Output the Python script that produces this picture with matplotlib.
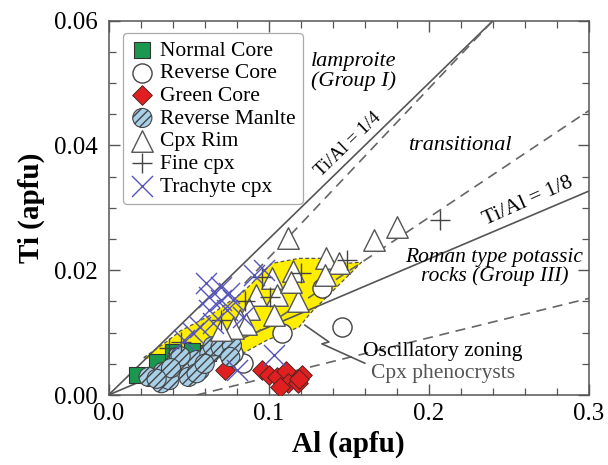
import matplotlib
matplotlib.use('Agg')
import matplotlib.pyplot as plt
from matplotlib.ticker import MultipleLocator

plt.rcParams['font.family'] = ['Liberation Serif', 'DejaVu Serif']
plt.rcParams['hatch.color'] = '#3f6f98'
plt.rcParams['hatch.linewidth'] = 1.0

# ---- data (Al, Ti in apfu) ----
normal_al = [0.018, 0.030, 0.040, 0.052, 0.062]
normal_ti = [0.0032, 0.0053, 0.0069, 0.0070, 0.0067]

rev_core_al = [0.077, 0.084, 0.078, 0.108, 0.133, 0.146]
rev_core_ti = [0.0061, 0.0051, 0.0067, 0.0099, 0.0171, 0.0109]

green_al = [0.073, 0.096, 0.100, 0.105, 0.111, 0.112, 0.118, 0.121, 0.107, 0.119]
green_ti = [0.0040, 0.0040, 0.0032, 0.0029, 0.0038, 0.0019, 0.0019, 0.0032, 0.0013, 0.0025]

mantle_al = [0.025, 0.033, 0.034, 0.041, 0.038, 0.050, 0.050, 0.057, 0.043, 0.055,
             0.063, 0.065, 0.070, 0.077, 0.076, 0.045, 0.039, 0.055, 0.030, 0.060]
mantle_ti = [0.0029, 0.0019, 0.0037, 0.0048, 0.0024, 0.0051, 0.0029, 0.0040, 0.0061, 0.0056,
             0.0066, 0.0078, 0.0077, 0.0080, 0.0061, 0.0062, 0.0043, 0.0035, 0.0026, 0.0050]

rim_al = [0.112, 0.136, 0.144, 0.115, 0.135, 0.102, 0.105, 0.118, 0.092, 0.088,
          0.103, 0.082, 0.086, 0.078, 0.166, 0.180, 0.114, 0.070]
rim_ti = [0.0251, 0.0219, 0.0211, 0.0198, 0.0192, 0.0188, 0.0160, 0.0151, 0.0160, 0.0138,
          0.0128, 0.0121, 0.0114, 0.0108, 0.0248, 0.0269, 0.0181, 0.0105]

fine_al = [0.038, 0.045, 0.070, 0.085, 0.096, 0.101, 0.120, 0.149, 0.207]
fine_ti = [0.0075, 0.0085, 0.0120, 0.0150, 0.0189, 0.0157, 0.0195, 0.0216, 0.0280]

trach_al = [0.061, 0.070, 0.063, 0.070, 0.075, 0.078, 0.091, 0.063, 0.074, 0.057,
            0.065, 0.053, 0.047, 0.103, 0.080, 0.084, 0.097]
trach_ti = [0.0179, 0.0173, 0.0157, 0.0152, 0.0163, 0.0152, 0.0192, 0.0136, 0.0136, 0.0109,
            0.0115, 0.0099, 0.0088, 0.0064, 0.0040, 0.0125, 0.0200]

# yellow oscillatory-zoning field outline
zone_al = [0.022, 0.036, 0.045, 0.063, 0.084, 0.102, 0.119, 0.132, 0.149, 0.158,
           0.155, 0.126, 0.119, 0.099, 0.084, 0.057, 0.035]
zone_ti = [0.0060, 0.0085, 0.0103, 0.0127, 0.0165, 0.0211, 0.0219, 0.0219, 0.0211, 0.0213,
           0.0205, 0.0131, 0.0109, 0.0088, 0.0067, 0.0054, 0.0050]

# boundary lines
quarter_al, quarter_ti = [0.0, 0.24], [0.0, 0.06]
eighth_al, eighth_ti = [0.0, 0.3], [0.0, 0.0327]
dash_up_al, dash_up_ti = [0.085, 0.240], [0.0179, 0.0600]
dash_mid_al, dash_mid_ti = [0.090, 0.300], [0.0096, 0.0456]
dash_low_al, dash_low_ti = [0.055, 0.300], [0.0000, 0.0155]
zig_al = [0.1226, 0.1376, 0.1332, 0.1600]
zig_ti = [0.0112, 0.0085, 0.0082, 0.0051]

fig = plt.figure(figsize=(6.08, 4.65), dpi=100)
ax = fig.add_axes([0.1785, 0.1505, 0.7903, 0.805])

ax.fill(zone_al, zone_ti, facecolor='#ffee00', edgecolor='#555555', ls=(0, (3, 2)), lw=0.9, zorder=1)

line_c = '#555555'
ax.plot(quarter_al, quarter_ti, color=line_c, lw=1.2, zorder=2)
ax.plot(eighth_al, eighth_ti, color=line_c, lw=1.2, zorder=2)
ax.plot(dash_up_al, dash_up_ti, color='#666666', lw=1.2, ls=(0, (6, 4)), zorder=2)
ax.plot(dash_mid_al, dash_mid_ti, color='#666666', lw=1.2, ls=(0, (6, 4)), zorder=2)
ax.plot(dash_low_al, dash_low_ti, color='#666666', lw=1.2, ls=(0, (6, 4)), zorder=2)
ax.plot(zig_al, zig_ti, color=line_c, lw=1.2, zorder=2)

ax.scatter(normal_al, normal_ti, marker='s', s=140, c='#1a9850', edgecolors='#333333', lw=0.8,
           label='Normal Core', zorder=3)
ax.scatter(rev_core_al, rev_core_ti, marker='o', s=190, c='white', edgecolors='#444444', lw=1.0,
           label='Reverse Core', zorder=3)
ax.scatter(green_al, green_ti, marker='D', s=100, c='#e02020', edgecolors='#552222', lw=0.7,
           label='Green Core', zorder=4)
ax.scatter(mantle_al, mantle_ti, marker='o', s=190, c='#a8d0e8', edgecolors='#444444', lw=0.8,
           hatch='////', label='Reverse Manlte', zorder=4)
ax.scatter(rim_al, rim_ti, marker='^', s=240, c='white', edgecolors='#555555', lw=1.0,
           label='Cpx Rim', zorder=5)
ax.scatter(fine_al, fine_ti, marker='+', s=200, c='#444444', lw=1.0, label='Fine cpx', zorder=6)
ax.scatter(trach_al, trach_ti, marker='x', s=230, c='#5555bb', lw=1.0, label='Trachyte cpx', zorder=6)

ax.set_xlim(0, 0.3)
ax.set_ylim(0, 0.06)
ax.xaxis.set_major_locator(MultipleLocator(0.1))
ax.xaxis.set_minor_locator(MultipleLocator(0.02))
ax.yaxis.set_major_locator(MultipleLocator(0.02))
ax.yaxis.set_minor_locator(MultipleLocator(0.005))
ax.xaxis.set_major_formatter(plt.FormatStrFormatter('%.1f'))
ax.yaxis.set_major_formatter(plt.FormatStrFormatter('%.2f'))
ax.tick_params(which='both', direction='in', top=True, right=True, labelsize=18, color='#555555')
ax.tick_params(axis='y', pad=8)
ax.tick_params(axis='x', pad=6)
ax.tick_params(which='major', length=8, width=1.0)
ax.tick_params(which='minor', length=5, width=0.9)
for sp in ax.spines.values():
    sp.set_color('#555555')
    sp.set_linewidth(1.1)

ax.set_xlabel('Al (apfu)', fontsize=21, fontweight='bold', labelpad=4)
ax.set_ylabel('Ti (apfu)', fontsize=21, fontweight='bold', labelpad=6)

ax.text(0.153, 0.0518, 'lamproite\n(Group I)', style='italic', fontsize=16, ha='center', va='center',
        linespacing=1.0)
ax.text(0.219, 0.0400, 'transitional', style='italic', fontsize=16, ha='center', va='center')
ax.text(0.241, 0.0205, 'Roman type potassic\nrocks (Group III)', style='italic', fontsize=15.5,
        ha='center', va='center', linespacing=1.0)
ax.text(0.1496, 0.0402, 'Ti/Al = 1/4', fontsize=13.5, ha='center', va='center', rotation=44,
        rotation_mode='anchor')
ax.text(0.262, 0.0310, 'Ti/Al = 1/8', fontsize=15.5, ha='center', va='center', rotation=24,
        rotation_mode='anchor')
ax.text(0.2087, 0.0069, 'Oscillatory zoning', fontsize=15.5, ha='center', va='center')
ax.text(0.2087, 0.0035, 'Cpx phenocrysts', fontsize=15.5, ha='center', va='center', color='#555555')

leg = ax.legend(loc='upper left', bbox_to_anchor=(0.03, 0.967), borderaxespad=0, fontsize=15.5,
                frameon=True, fancybox=True, edgecolor='#aaaaaa', framealpha=1, handletextpad=0.25,
                labelspacing=0.12, borderpad=0.35, handlelength=1.1, scatterpoints=1)
leg.get_frame().set_linewidth(0.9)

fig.savefig('out.png', dpi=100)
